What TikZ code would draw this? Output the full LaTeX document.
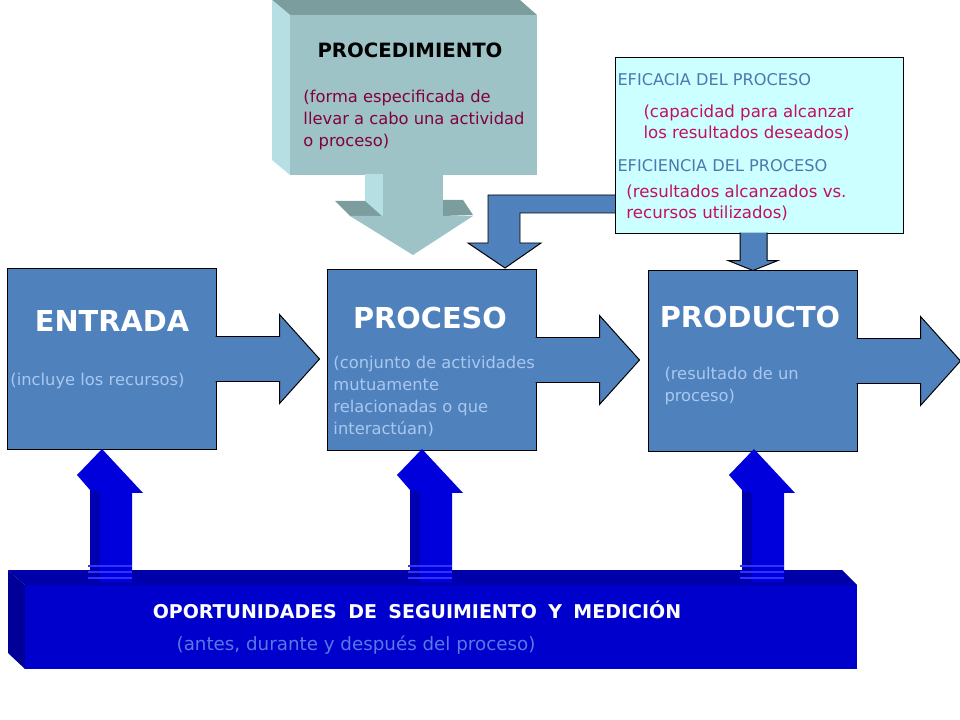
\documentclass[tikz,border=0pt]{standalone}
\usepackage{fontspec}
\setmainfont{DejaVu Sans}
\usetikzlibrary{calc}

\definecolor{boxblue}{HTML}{4F81BD}
\definecolor{boxnote}{HTML}{A9C8F0}
\definecolor{tealfront}{HTML}{9DC3C6}
\definecolor{teallight}{HTML}{B5DFE2}
\definecolor{tealdark}{HTML}{7B9D9D}
\definecolor{proctext}{HTML}{800040}
\definecolor{infofill}{HTML}{CCFFFF}
\definecolor{infohead}{HTML}{4A78B0}
\definecolor{infotext}{HTML}{C40F5C}
\definecolor{barfront}{HTML}{0000CC}
\definecolor{bartop}{HTML}{0000AA}
\definecolor{barside}{HTML}{000099}
\definecolor{barnote}{HTML}{5A78E6}
\definecolor{upblue}{HTML}{0000DD}
\definecolor{updark}{HTML}{0000B0}
\definecolor{uprib}{HTML}{3333FF}

\begin{document}
\begin{tikzpicture}[x=0.025cm, y=-0.025cm, line width=0.7pt,
  stagebox/.style={draw=black, fill=boxblue, minimum width=5.2cm, minimum height=4.5cm, inner sep=0},
  blockarrow/.style={draw=black, fill=boxblue},
  title/.style={font=\fontsize{20.5}{24}\selectfont\bfseries, text=white, inner sep=0},
  note/.style={font=\fontsize{11.6}{15.7}\selectfont, text=boxnote, align=left, anchor=west, inner sep=0},
  infohd/.style={font=\fontsize{11.5}{14}\selectfont, text=infohead, anchor=west, inner sep=0},
  infonote/.style={font=\fontsize{11.8}{15}\selectfont, text=infotext, align=left, anchor=west, inner sep=0}]
\useasboundingbox (0,0) rectangle (960,720);

% procedimiento block with its arrow
\fill [tealdark] (272,0) -- (520,0) -- (537,15) -- (290,15) -- cycle;
\fill [teallight] (272,0) -- (290,15) -- (290,175) -- (272,160) -- cycle;
\node [fill=tealfront, minimum width=6.175cm, minimum height=4cm, inner sep=0] (procedimiento) at (413.5,95) {};
\fill [teallight] (365,174) -- (383,174) -- (383,217) -- (365,201) -- cycle;
\fill [tealfront] (383,174) rectangle (443,217);
\fill [tealdark] (335,201) -- (365,201) -- (383,217) -- (350,216) -- cycle;
\fill [tealdark] (443,200) -- (463,200) -- (473,215) -- (443,216) -- cycle;
\fill [tealfront] (350,216) -- (473,216) -- (413,255) -- cycle;

% eficacia / eficiencia box
\draw [blockarrow] (616,195) -- ++(-128,0) -- ++(0,48) -- ++(-20,0) -- ++(37,25) -- ++(36,-25) -- ++(-21,0) -- ++(0,-30) -- ++(96,0);
\node [draw=black, fill=infofill, minimum width=7.175cm, minimum height=4.375cm, inner sep=0] (info) at (759.5,145.5) {};
\draw [blockarrow] ([shift={(-19.5,-1)}]info.south) -- ++(0,28) -- ++(-12,0) -- ++(25,10) -- ++(25,-10) -- ++(-11,0) -- ++(0,-28);

% the three stages
\node [stagebox] (entrada) at (112,359) {};
\node [stagebox] (proceso) at (432,360) {};
\node [stagebox] (producto) at (753,361) {};
\draw [blockarrow] ([shift={(-1,-22.5)}]entrada.east) -- ++(64,0) -- ++(0,-22) -- ++(40,44.5) -- ++(-40,44.5) -- ++(0,-22) -- ++(-64,0);
\draw [blockarrow] ([shift={(-1,-22.5)}]proceso.east) -- ++(64,0) -- ++(0,-22) -- ++(40,44.5) -- ++(-40,44.5) -- ++(0,-22) -- ++(-64,0);
\draw [blockarrow] ([shift={(-1,-22.5)}]producto.east) -- ++(64,0) -- ++(0,-22) -- ++(40,44.5) -- ++(-40,44.5) -- ++(0,-22) -- ++(-64,0);

% seguimiento y medicion bar
\fill [bartop] (8,570) -- (842,570) -- (857,585) -- (25,585) -- cycle;
\fill [barside] (8,570) -- (25,585) -- (25,669) -- (8,653) -- cycle;
\node [fill=barfront, minimum width=20.8cm, minimum height=2.1cm, inner sep=0] (oportunidades) at (441,627) {};

% arrows up from the bar
\fill [upblue] (102,449) -- (77,475) -- (90,490) -- (90,582) -- (132,582) -- (132,493) -- (143,493) -- cycle;
\fill [updark] (90,490) -- (100,493) -- (100,582) -- (90,582) -- cycle;
\draw [uprib, line width=1pt] (88,566) -- (132,566) (88,572) -- (132,572) (88,578) -- (132,578);
\fill [upblue] (422,449) -- (397,475) -- (410,490) -- (410,582) -- (452,582) -- (452,493) -- (463,493) -- cycle;
\fill [updark] (410,490) -- (420,493) -- (420,582) -- (410,582) -- cycle;
\draw [uprib, line width=1pt] (408,566) -- (452,566) (408,572) -- (452,572) (408,578) -- (452,578);
\fill [upblue] (754,449) -- (729,475) -- (742,490) -- (742,582) -- (784,582) -- (784,493) -- (795,493) -- cycle;
\fill [updark] (742,490) -- (752,493) -- (752,582) -- (742,582) -- cycle;
\draw [uprib, line width=1pt] (740,566) -- (784,566) (740,572) -- (784,572) (740,578) -- (784,578);

% texts
\node [font=\fontsize{14}{17}\selectfont\bfseries, inner sep=0] (proctitle) at (410,50) {PROCEDIMIENTO};
\node [note, text=proctext] (procnote) at (303,120) {(forma especificada de\\llevar a cabo una actividad\\o proceso)};
\node [infohd] (eficacia) at (617,80) {EFICACIA DEL PROCESO};
\node [infonote] (eficacianote) at (643,122.5) {(capacidad para alcanzar\\los resultados deseados)};
\node [infohd] (eficiencia) at (617,166) {EFICIENCIA DEL PROCESO};
\node [infonote] (eficiencianote) at (626,202.5) {(resultados alcanzados vs.\\recursos utilizados)};
\node [title] (entradatitle) at (112,321) {ENTRADA};
\node [note] (entradanote) at (10,381) {(incluye los recursos)};
\node [title] (procesotitle) at (430,318) {PROCESO};
\node [note] (procesonote) at (333,396.5) {(conjunto de actividades\\mutuamente\\relacionadas o que\\interactúan)};
\node [title] (productotitle) at (750,317) {PRODUCTO};
\node [note] (productonote) at (664,386) {(resultado de un\\proceso)};
\node [font={\fontsize{13.5}{16}\selectfont\bfseries\spaceskip=0.6em\relax}, text=white, inner sep=0] (bartitle) at (417,610) {OPORTUNIDADES DE SEGUIMIENTO Y MEDICIÓN};
\node [font=\fontsize{13}{16}\selectfont, text=barnote, inner sep=0] (barnote) at (356,645) {(antes, durante y después del proceso)};
\end{tikzpicture}
\end{document}
